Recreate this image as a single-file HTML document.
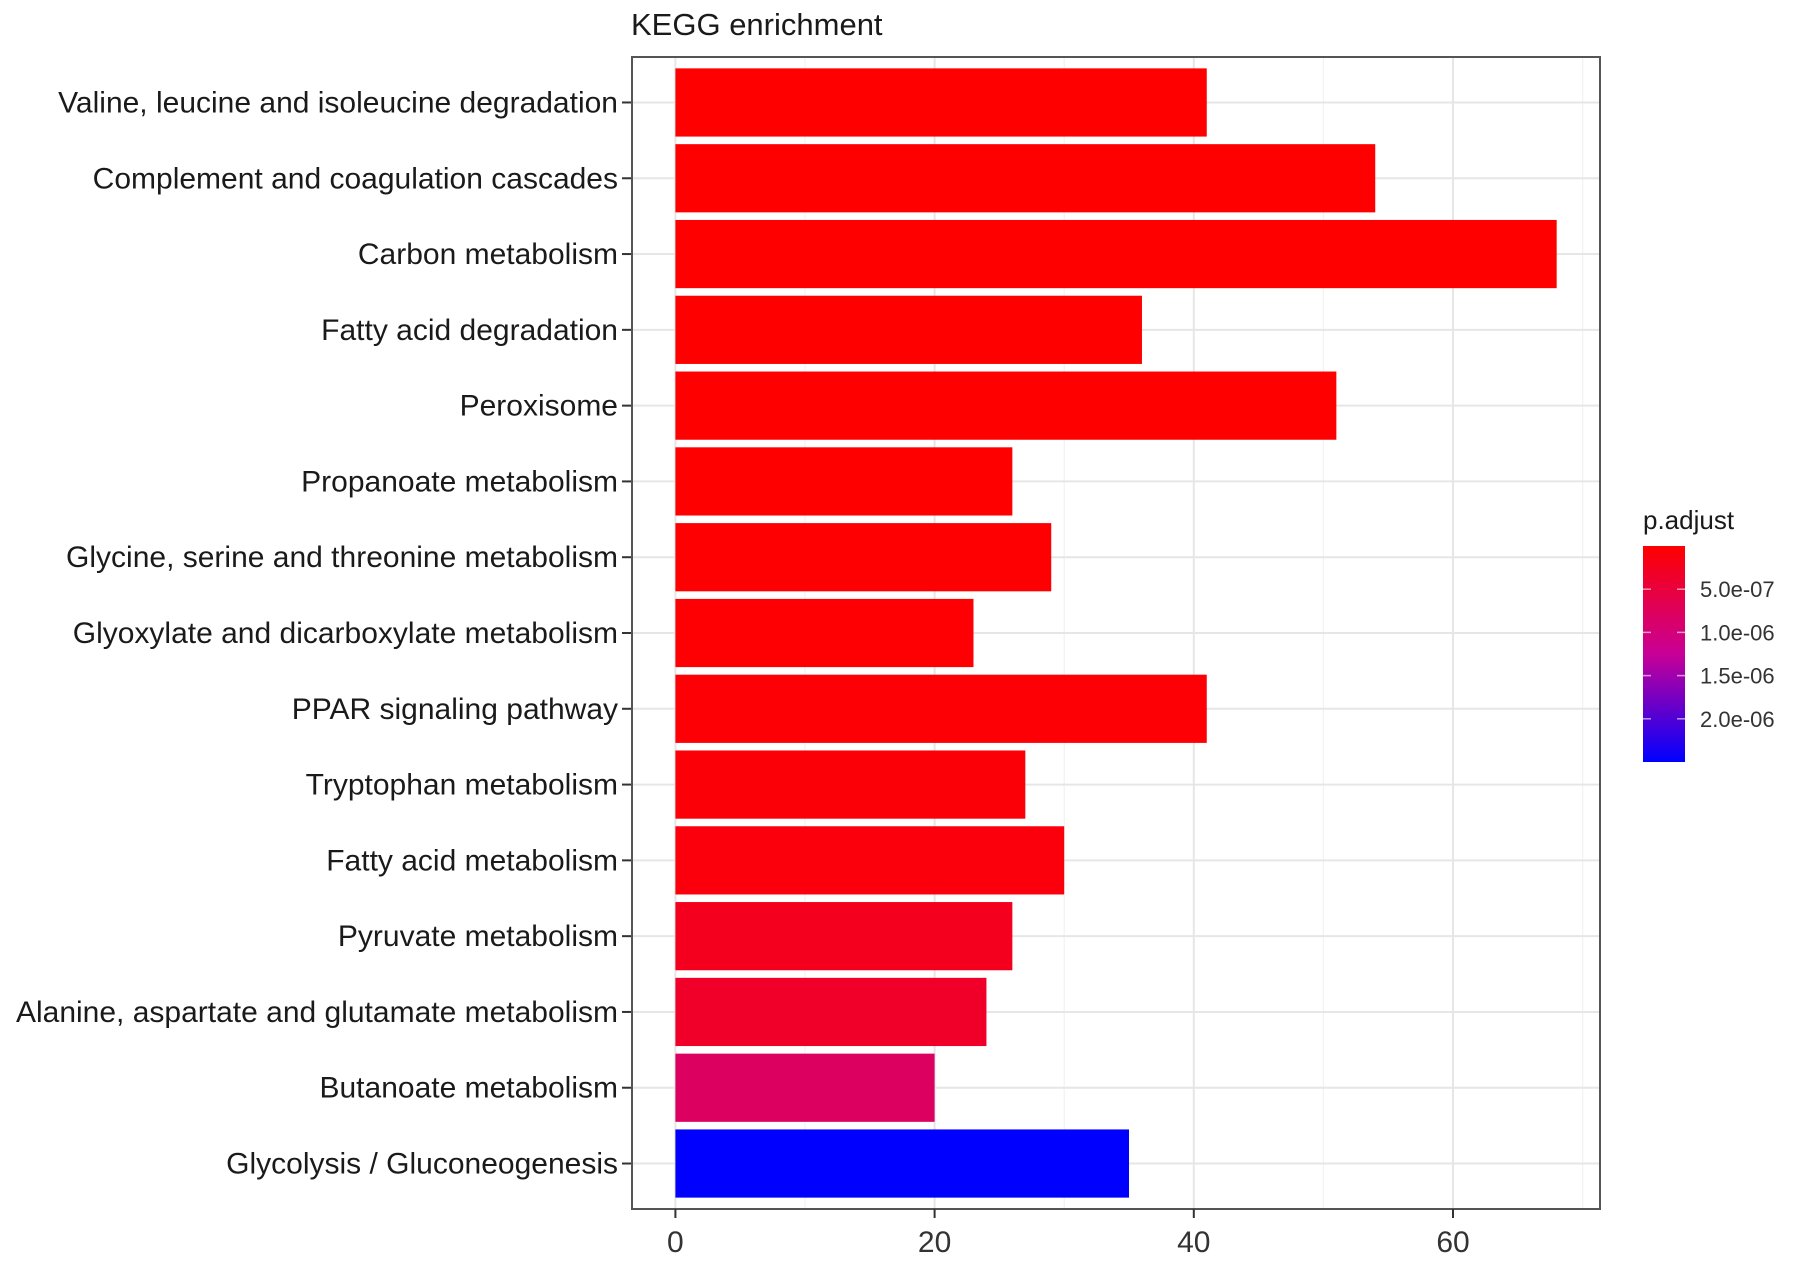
<!DOCTYPE html>
<html><head><meta charset="utf-8"><style>
body{margin:0;background:#fff;}
svg text{font-family:"Liberation Sans",Arial,sans-serif;}
</style></head><body>
<svg id="chart" width="1795" height="1259" xmlns="http://www.w3.org/2000/svg">
<text x="631" y="35" font-size="31" fill="#1a1a1a">KEGG enrichment</text>
<g id="grid"></g><g id="bars"></g><g id="axes"></g><g id="legend"></g>
</svg>
<script>
const categories=["Valine, leucine and isoleucine degradation","Complement and coagulation cascades","Carbon metabolism","Fatty acid degradation","Peroxisome","Propanoate metabolism","Glycine, serine and threonine metabolism","Glyoxylate and dicarboxylate metabolism","PPAR signaling pathway","Tryptophan metabolism","Fatty acid metabolism","Pyruvate metabolism","Alanine, aspartate and glutamate metabolism","Butanoate metabolism","Glycolysis / Gluconeogenesis"];
const counts=[41,54,68,36,51,26,29,23,41,27,30,26,24,20,35];
const padjust=[1e-9,2e-9,3e-9,5e-9,8e-9,1e-8,2e-8,3e-8,4e-8,6e-8,1e-7,2.5e-7,3.3e-7,8.0e-7,2.5e-6];
const xTicks=[0,20,40,60];
const legendTicks=[5e-7,1e-6,1.5e-6,2e-6];
const legendLabels=["5.0e-07","1.0e-06","1.5e-06","2.0e-06"];

const NS="http://www.w3.org/2000/svg";
const L=632,R=1600,T=57,B=1209,x0=675.4,ux=12.96;
const X=v=>x0+v*ux;
const step=(B-T)/(categories.length+0.2);
const Y=i=>T+step*(0.6+i);
const pmin=0,pmax=2.5e-6;
function col(p){const t=Math.max(0,Math.min(1,(p-pmin)/(pmax-pmin)));let r,b;
if(t<0.5){const s=t/0.5;r=255-55*s;b=150*s;}else{const s=(t-0.5)/0.5;r=200*(1-s);b=150+105*s;}
return `rgb(${Math.round(r)},0,${Math.round(b)})`;}
function mk(tag,attrs,parent){const e=document.createElementNS(NS,tag);for(const k in attrs)e.setAttribute(k,attrs[k]);parent.appendChild(e);return e;}
const grid=document.getElementById('grid'),bars=document.getElementById('bars'),axes=document.getElementById('axes'),leg=document.getElementById('legend');
for(let v=10;v<=70;v+=20){const g=mk('line',{x1:X(v),x2:X(v),y1:T,y2:B,stroke:'#f2f2f2','stroke-width':1.2},grid);

}
xTicks.forEach(v=>{const g=mk('line',{x1:X(v),x2:X(v),y1:T,y2:B,stroke:'#e6e6e6','stroke-width':2},grid);

});
categories.forEach((c,i)=>{const g=mk('line',{x1:L,x2:R,y1:Y(i),y2:Y(i),stroke:'#e6e6e6','stroke-width':2},grid);

});
const bh=step*0.9;
categories.forEach((c,i)=>{
const b=mk('rect',{x:X(0),y:Y(i)-bh/2,width:X(counts[i])-X(0),height:bh,fill:col(padjust[i])},bars);


const t=mk('text',{x:618,y:Y(i)+10,'font-size':30,'text-anchor':'end',fill:'#1a1a1a'},axes);t.textContent=c;


const tk=mk('line',{x1:622,x2:632,y1:Y(i),y2:Y(i),stroke:'#333','stroke-width':2},axes);


});
const fr=mk('rect',{x:L,y:T,width:R-L,height:B-T,fill:'none',stroke:'#555','stroke-width':2},axes);


xTicks.forEach(v=>{const tk=mk('line',{x1:X(v),x2:X(v),y1:B,y2:B+9,stroke:'#333','stroke-width':2},axes);


const t=mk('text',{x:X(v),y:B+43,'font-size':30,'text-anchor':'middle',fill:'#333'},axes);t.textContent=v;

});
// legend
const lt=mk('text',{x:1643,y:529,'font-size':26,fill:'#1a1a1a'},leg);lt.textContent='p.adjust';


const defs=mk('defs',{},leg);const gr=mk('linearGradient',{id:'cg',x1:0,y1:0,x2:0,y2:1},defs);
mk('stop',{offset:'0','stop-color':'#ff0000'},gr);mk('stop',{offset:'0.5','stop-color':'#c80096'},gr);mk('stop',{offset:'1','stop-color':'#0000ff'},gr);
const cb=mk('rect',{x:1643,y:546,width:42,height:216,fill:'url(#cg)'},leg);


const cy=p=>546+216*(p-pmin)/(pmax-pmin);
legendTicks.forEach((p,i)=>{const y=cy(p);
mk('line',{x1:1643,x2:1651,y1:y,y2:y,stroke:'#fff','stroke-width':1.5,opacity:0.6},leg);
mk('line',{x1:1677,x2:1685,y1:y,y2:y,stroke:'#fff','stroke-width':1.5,opacity:0.6},leg);
const t=mk('text',{x:1700,y:y+8,'font-size':22,fill:'#333'},leg);t.textContent=legendLabels[i];

});
</script>
</body></html>
